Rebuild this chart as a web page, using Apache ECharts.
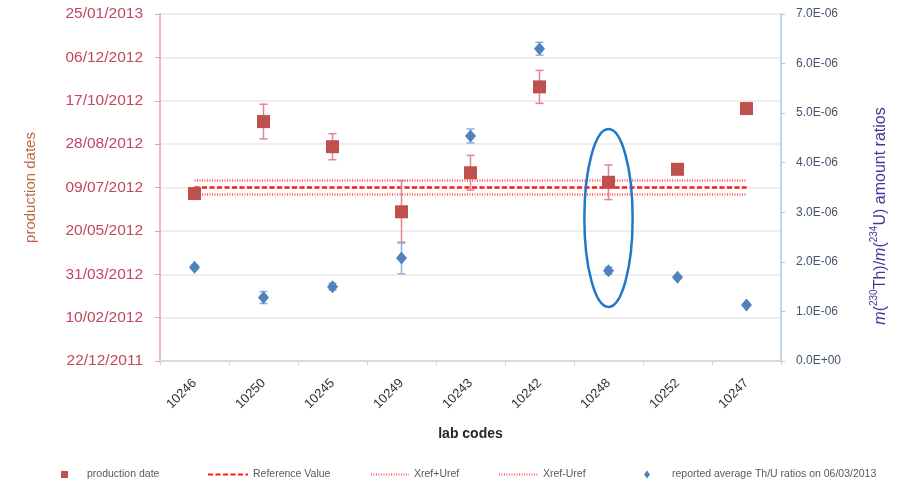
<!DOCTYPE html>
<html>
<head>
<meta charset="utf-8">
<script src="https://cdn.jsdelivr.net/npm/echarts@6/dist/echarts.min.js"></script>
<style>html,body{margin:0;padding:0;background:#fff;}#c{width:898px;height:479px;}</style>
</head>
<body>
<div id="c"></div>
<script>
// ---- data ----
const labCodes = ['10246','10250','10245','10249','10243','10242','10248','10252','10247'];
const productionDates = ['02/07/2012','23/09/2012','25/08/2012','11/06/2012','26/07/2012','02/11/2012','15/07/2012','30/07/2012','08/10/2012'];
const productionErrDays = [0, 20, 15, 36, 20, 19, 20, 3, 0];
const thuRatios = [1.89e-6, 1.28e-6, 1.50e-6, 2.08e-6, 4.54e-6, 6.30e-6, 1.82e-6, 1.69e-6, 1.13e-6];
const thuRatioErr = [0.04e-6, 0.12e-6, 0.07e-6, 0.32e-6, 0.14e-6, 0.13e-6, 0.07e-6, 0.03e-6, 0];
const referenceDate = '09/07/2012';
const referenceUncDays = 8;
const dateAxisStart = '22/12/2011';
const dateAxisEnd = '25/01/2013';
const dateTickDays = 50;
const ratioAxisMax = 7e-6;
const ratioTickStep = 1e-6;
const highlightCode = '10248';
const highlightRange = [1.09e-6, 4.68e-6];

// ---- helpers ----
function parseDMY(s){ const [d,m,y]=s.split('/').map(Number); return Date.UTC(y,m-1,d); }
const DAY = 86400000;
const base = parseDMY(dateAxisStart);
const toDays = s => Math.round((parseDMY(s)-base)/DAY);
function fmtDate(days){
  const dt = new Date(base + Math.round(days)*DAY);
  const p = n => (n<10?'0':'')+n;
  return p(dt.getUTCDate())+'/'+p(dt.getUTCMonth()+1)+'/'+dt.getUTCFullYear();
}
function fmtSci(v){
  if (Math.abs(v) < 1e-12) return '0.0E+00';
  const m = Math.round(v*1e7)/10;
  return m.toFixed(1)+'E-06';
}

const prodDays = productionDates.map(toDays);
const refDays = toDays(referenceDate);
const refLine = labCodes.map(()=>refDays);
const refUpper = labCodes.map(()=>refDays+referenceUncDays);
const refLower = labCodes.map(()=>refDays-referenceUncDays);
const prodErrData = labCodes.map((c,i)=>[i, prodDays[i]-productionErrDays[i], prodDays[i]+productionErrDays[i], productionErrDays[i]]);
const ratioErrData = labCodes.map((c,i)=>[i, thuRatios[i]-thuRatioErr[i], thuRatios[i]+thuRatioErr[i], thuRatioErr[i]]);

function errRender(color){
  return function(params, api){
    if (api.value(3) <= 0) return null;
    const lo = api.coord([api.value(0), api.value(1)]);
    const hi = api.coord([api.value(0), api.value(2)]);
    const w = 4;
    const st = {stroke: color, lineWidth: 1.5};
    return {type:'group', children:[
      {type:'line', shape:{x1:lo[0],y1:lo[1],x2:hi[0],y2:hi[1]}, style:st},
      {type:'line', shape:{x1:lo[0]-w,y1:lo[1],x2:lo[0]+w,y2:lo[1]}, style:st},
      {type:'line', shape:{x1:hi[0]-w,y1:hi[1],x2:hi[0]+w,y2:hi[1]}, style:st}
    ]};
  };
}

const chart = echarts.init(document.getElementById('c'), null, {renderer:'canvas'});
const legendFont = {fontFamily:'Liberation Sans, sans-serif', fontSize:10.5, color:'#595959'};
const hideSym = {opacity:0, borderWidth:0};
const totalDays = toDays(dateAxisEnd);

const option = {
  animation:false,
  backgroundColor:'#fff',
  grid:{left:160, right:117, top:14, bottom:118, containLabel:false},
  legend:[
    {left:56, top:464, itemWidth:7, itemHeight:7, data:[{name:'production date', icon:'rect'}], textStyle:Object.assign({padding:[0,0,0,14]}, legendFont)},
    {left:202, top:464, itemWidth:40, itemHeight:8, itemStyle:hideSym, data:['Reference Value'], textStyle:legendFont},
    {left:365, top:464, itemWidth:38, itemHeight:8, itemStyle:hideSym, data:['Xref+Uref'], textStyle:legendFont},
    {left:493, top:464, itemWidth:39, itemHeight:8, itemStyle:hideSym, data:['Xref-Uref'], textStyle:legendFont},
    {left:639, top:464, itemWidth:6, itemHeight:8, data:[{name:'reported average Th/U ratios on 06/03/2013', icon:'diamond'}], textStyle:Object.assign({padding:[0,0,0,17]}, legendFont)}
  ],
  xAxis:{
    type:'category', data:labCodes, boundaryGap:true,
    name:'lab codes', nameLocation:'middle', nameGap:66,
    nameTextStyle:{fontFamily:'Liberation Sans, sans-serif', fontSize:14, fontWeight:'bold', color:'#262626'},
    axisLine:{lineStyle:{color:'#d9d9d9', width:2}},
    axisTick:{show:true, length:4, lineStyle:{color:'#cfcfcf'}},
    axisLabel:{rotate:45, margin:20, fontFamily:'Liberation Sans, sans-serif', fontSize:13, color:'#333'}
  },
  yAxis:[
    {
      type:'value', min:0, max:totalDays, interval:dateTickDays, position:'left',
      name:'production dates', nameLocation:'middle', nameGap:122,
      nameTextStyle:{fontFamily:'Liberation Sans, sans-serif', fontSize:15, color:'#bb6a42'},
      axisLine:{show:true, lineStyle:{color:'#e8a0aa', width:1.5}},
      axisTick:{show:true, length:5, lineStyle:{color:'#e8a0aa'}},
      axisLabel:{formatter:fmtDate, margin:17, fontFamily:'Liberation Sans, sans-serif', fontSize:15.5, color:'#c4465e'},
      splitLine:{show:true, lineStyle:{color:'#e8e8e8', width:1.5}}
    },
    {
      type:'value', min:0, max:ratioAxisMax, interval:ratioTickStep, position:'right',
      axisLine:{show:true, lineStyle:{color:'#a9c6e3', width:1.5}},
      axisTick:{show:true, length:4, inside:false, lineStyle:{color:'#a9c6e3'}},
      axisLabel:{formatter:fmtSci, margin:15, fontFamily:'Liberation Sans, sans-serif', fontSize:12, color:'#44546a'},
      splitLine:{show:false}
    }
  ],
  series:[
    {name:'Xref+Uref', type:'line', yAxisIndex:0, data:refUpper, symbol:'none', lineStyle:{color:'#ff5a5a', width:2.5, type:[1,1.5]}, itemStyle:{color:'#ff5a5a'}, z:2},
    {name:'Xref-Uref', type:'line', yAxisIndex:0, data:refLower, symbol:'none', lineStyle:{color:'#ff5a5a', width:2.5, type:[1,1.5]}, itemStyle:{color:'#ff5a5a'}, z:2},
    {name:'Reference Value', type:'line', yAxisIndex:0, data:refLine, symbol:'none', lineStyle:{color:'#ff1a1a', width:2.5, type:[5,2.5]}, itemStyle:{color:'#ff1a1a'}, z:3},
    {name:'prodErr', type:'custom', yAxisIndex:0, data:prodErrData, renderItem:errRender('#e3848f'), encode:{x:0, y:[1,2]}, z:4},
    {name:'ratioErr', type:'custom', yAxisIndex:1, data:ratioErrData, renderItem:errRender('#8fb0da'), encode:{x:0, y:[1,2]}, z:4},
    {name:'production date', type:'scatter', yAxisIndex:0, data:prodDays, symbol:'rect', symbolSize:13, itemStyle:{color:'#c0504d', opacity:1}, z:5},
    {name:'reported average Th/U ratios on 06/03/2013', type:'scatter', yAxisIndex:1, data:thuRatios, symbol:'diamond', symbolSize:[11,13], itemStyle:{color:'#4f81bd', opacity:1}, z:5}
  ]
};
chart.setOption(option);

// annotation ellipse around the highlighted lab, placed through the axes
const pTop = chart.convertToPixel({xAxisIndex:0, yAxisIndex:1}, [highlightCode, highlightRange[1]]);
const pBot = chart.convertToPixel({xAxisIndex:0, yAxisIndex:1}, [highlightCode, highlightRange[0]]);
const c0 = chart.convertToPixel({xAxisIndex:0}, labCodes[0]);
const c1 = chart.convertToPixel({xAxisIndex:0}, labCodes[1]);
const rx = Math.abs(c1-c0)*0.35;

chart.setOption({
  graphic:[
    {type:'ellipse', shape:{cx:pTop[0], cy:(pTop[1]+pBot[1])/2, rx:rx, ry:Math.abs(pBot[1]-pTop[1])/2},
     style:{fill:'none', stroke:'#1f78c8', lineWidth:2.5}, z:10},
    {type:'text', x:879, y:216, rotation:Math.PI/2,
     style:{
       text:'{i|m}{n|(}{s|230}{n|Th)/}{i|m}{n|(}{s|234}{n|U) amount ratios}',
       align:'center', verticalAlign:'middle',
       rich:{
         i:{fontFamily:'Liberation Sans, sans-serif', fontSize:16, fontStyle:'italic', fill:'#3d3d99', lineHeight:19, verticalAlign:'bottom'},
         n:{fontFamily:'Liberation Sans, sans-serif', fontSize:16, fill:'#3d3d99', lineHeight:19, verticalAlign:'bottom'},
         s:{fontFamily:'Liberation Sans, sans-serif', fontSize:10, fill:'#3d3d99', lineHeight:19, verticalAlign:'top'}
       }
     }, z:10}
  ]
});
</script>
</body>
</html>
